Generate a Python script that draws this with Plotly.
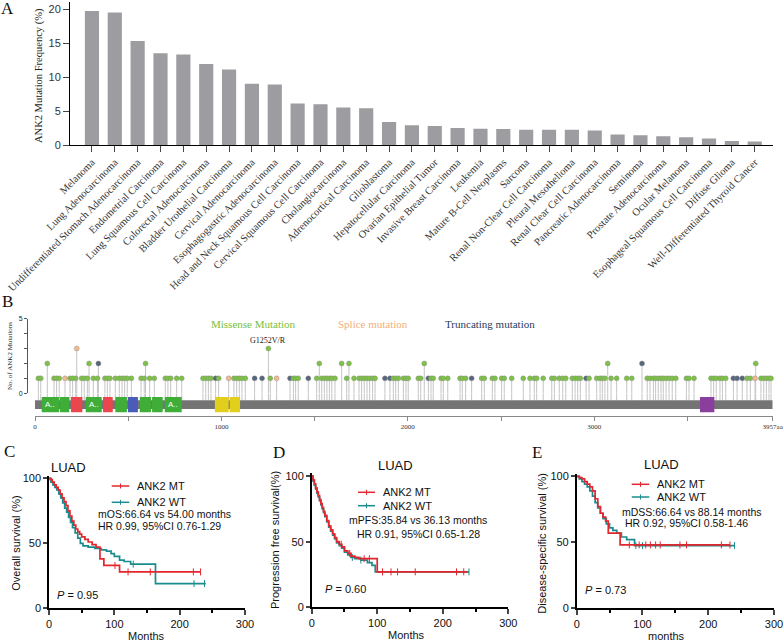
import plotly.graph_objects as go

W, H = 784, 642


def px(x):
    return x / W


def py(y):
    return 1 - y / H


SERIF = "Liberation Serif"
SANS = "Liberation Sans"

# ---------------- A: ANK2 mutation frequency per cancer type ----------------
cancer_types = [
    "Melanoma", "Lung Adenocarcinoma", "Undifferentiated Stomach Adenocarcinoma",
    "Endometrial Carcinoma", "Lung Squamous Cell Carcinoma", "Colorectal Adenocarcinoma",
    "Bladder Urothelial Carcinoma", "Cervical Adenocarcinoma", "Esophagogastric Adenocarcinoma",
    "Head and Neck Squamous Cell Carcinoma", "Cervical Squamous Cell Carcinoma",
    "Cholangiocarcinoma", "Adrenocortical Carcinoma", "Glioblastoma",
    "Hepatocellular Carcinoma", "Ovarian Epithelial Tumor", "Invasive Breast Carcinoma",
    "Leukemia", "Mature B-Cell Neoplasms", "Sarcoma", "Renal Non-Clear Cell Carcinoma",
    "Pleural Mesothelioma", "Renal Clear Cell Carcinoma", "Pancreatic Adenocarcinoma",
    "Seminoma", "Prostate Adenocarcinoma", "Ocular Melanoma",
    "Esophageal Squamous Cell Carcinoma", "Diffuse Glioma", "Well-Differentiated Thyroid Cancer",
]
mut_freq = [19.7, 19.5, 15.3, 13.5, 13.3, 11.9, 11.1, 9.0, 8.9, 6.1, 6.0, 5.5, 5.4, 3.4,
            2.9, 2.8, 2.5, 2.4, 2.35, 2.25, 2.25, 2.25, 2.15, 1.55, 1.45, 1.3, 1.15, 0.95,
            0.6, 0.5]

# ---------------- B: lollipop of ANK2 mutations ----------------
protein_len = 3957
mut_pos = [
    18, 31, 66, 102, 116, 130, 161, 188, 202, 218, 224, 250, 264, 281, 290, 313, 335, 340,
    375, 388, 402, 431, 452, 467, 481, 495, 517, 569, 586, 593, 615, 640, 699, 713, 728,
    760, 787, 901, 916, 930, 944, 969, 985, 1039, 1067, 1082, 1096, 1110, 1128, 1178, 1218,
    1252, 1262, 1296, 1368, 1386, 1398, 1412, 1466, 1511, 1525, 1538, 1552, 1566, 1579,
    1592, 1609, 1645, 1672, 1684, 1711, 1738, 1752, 1766, 1781, 1795, 1811, 1824, 1877,
    1904, 1922, 1935, 1949, 1976, 1990, 2002, 2056, 2069, 2088, 2110, 2124, 2136, 2178,
    2190, 2214, 2280, 2292, 2310, 2342, 2396, 2410, 2453, 2467, 2503, 2517, 2557, 2619,
    2655, 2678, 2691, 2726, 2772, 2786, 2812, 2831, 2847, 2882, 2897, 2911, 2925, 2956,
    2972, 3013, 3031, 3043, 3057, 3072, 3090, 3120, 3174, 3201, 3256, 3284, 3299, 3317,
    3329, 3343, 3358, 3370, 3385, 3401, 3418, 3437, 3494, 3508, 3535, 3626, 3640, 3654,
    3674, 3687, 3705, 3746, 3766, 3794, 3819, 3837, 3862, 3866, 3894, 3909, 3923, 3937, 3948,
]
recurrent_pos = [66, 224, 290, 340, 593, 1252, 1525, 1645, 1684, 2088, 3072, 3256, 3866]
recurrent_count = [2, 3, 2, 2, 2, 3, 2, 2, 2, 2, 2, 2, 2]
splice_pos = [161, 224, 1039, 1296, 3862]
truncating_pos = [340, 969, 1178, 1218, 1368, 1466, 1877, 1904, 2110, 2342, 2956, 3256,
                  3746, 3766, 3794]

domain_start = [36, 134, 193, 272, 365, 431, 499, 562, 628, 696, 965, 1044, 3567]
domain_end = [130, 184, 254, 358, 417, 493, 552, 622, 685, 787, 1039, 1100, 3644]
domain_color = ["#3fae38", "#3fae38", "#e9474d", "#3fae38", "#e9474d", "#3fae38", "#4b5bb8",
                "#3fae38", "#3fae38", "#3fae38", "#e2cf1d", "#e2cf1d", "#8a3f9f"]
domain_label = ["A..", "", "", "A..", "", "", "", "", "", "A..", "", "", ""]

type_color = {"M": "#7dc146", "S": "#f0b98f", "T": "#56667e"}

# ---------------- C/D/E: Kaplan-Meier curves (LUAD) ----------------
os_mt_t = [0, 2, 5, 8, 11, 14, 17, 20, 23, 26, 29, 32, 35, 38, 41, 44, 47, 50, 55, 60, 66, 72,
           78, 84, 108, 232]
os_mt_s = [100, 99, 97, 95, 93, 91, 88, 85, 82, 79, 75, 71, 67, 64, 61, 59, 57, 55, 53, 51, 49,
           47, 38, 33, 28, 28]
os_mt_cens = [101, 121, 155, 221, 232]
os_wt_t = [0, 3, 6, 9, 12, 15, 18, 21, 24, 27, 30, 33, 36, 40, 44, 48, 52, 60, 70, 80, 88, 95,
           100, 108, 115, 125, 163, 240]
os_wt_s = [100, 97, 95, 93, 91, 88, 85, 81, 77, 74, 70, 66, 62, 58, 54, 50, 48, 47, 46, 45, 44,
           42, 40, 37, 36, 34, 19, 19]
os_wt_cens = [129, 222, 238]

pfs_mt_t = [0, 2, 4, 6, 8, 10, 12, 14, 16, 18, 20, 23, 26, 29, 32, 35, 38, 42, 46, 50, 55, 60,
            66, 72, 100, 238]
pfs_mt_s = [100, 97, 94, 91, 88, 85, 82, 79, 76, 73, 70, 66, 62, 59, 56, 53, 50, 48, 46, 43, 41,
            39, 38, 37, 27, 27]
pfs_mt_cens = [45, 58, 80, 88, 108, 121, 131, 158, 221, 232]
pfs_wt_t = [0, 2, 4, 6, 8, 10, 12, 14, 16, 18, 20, 23, 26, 29, 32, 35, 38, 42, 46, 50, 55, 60,
            66, 75, 85, 92, 97, 240]
pfs_wt_s = [100, 96, 93, 90, 87, 84, 81, 78, 75, 72, 69, 65, 61, 58, 55, 52, 49, 47, 45, 42, 40,
            38, 37, 36, 34, 32, 27, 27]
pfs_wt_cens = [62, 75, 240]

dss_mt_t = [0, 4, 8, 12, 16, 20, 24, 28, 32, 36, 40, 44, 48, 66, 233]
dss_mt_s = [100, 99, 98, 96, 94, 92, 89, 83, 77, 72, 69, 66, 57, 48, 48]
dss_mt_cens = [80, 95, 105, 112, 120, 127, 157, 167, 220, 233]
dss_wt_t = [0, 4, 8, 12, 16, 20, 24, 28, 32, 36, 40, 45, 50, 55, 61, 68, 76, 88, 240]
dss_wt_s = [100, 98, 96, 94, 92, 89, 85, 80, 76, 72, 68, 64, 61, 59, 57, 54, 52, 47.5, 47.5]
dss_wt_cens = [90, 100, 240]

MT_COLOR = "#e3262d"
WT_COLOR = "#1b8c8e"


def surv_at(t, times, surv):
    val = surv[0]
    for ti, si in zip(times, surv):
        if ti <= t:
            val = si
    return val


fig = go.Figure()

# ---- A
fig.add_trace(go.Bar(x=cancer_types, y=mut_freq, width=0.62,
                     marker=dict(color="#9d9da1", line_width=0),
                     xaxis="x", yaxis="y", hoverinfo="skip"))

# ---- B
counts = [recurrent_count[recurrent_pos.index(p)] if p in recurrent_pos else 1 for p in mut_pos]
types = ["S" if p in splice_pos else "T" if p in truncating_pos else "M" for p in mut_pos]

stem_x, stem_y, base_y = [], [], []
for p, c in zip(mut_pos, counts):
    stem_x += [p, p, None]
    stem_y += [0, c, None]
    base_y += [0.69, 1.0, None]

fig.add_trace(go.Scatter(x=stem_x, y=stem_y, mode="lines",
                         line=dict(color="#c4c4c4", width=1),
                         xaxis="x2", yaxis="y2", hoverinfo="skip"))
fig.add_trace(go.Scatter(x=stem_x, y=base_y, mode="lines",
                         line=dict(color="#c4c4c4", width=1),
                         xaxis="x3", yaxis="y3", hoverinfo="skip"))
fig.add_trace(go.Scatter(x=mut_pos, y=counts, mode="markers",
                         marker=dict(size=5, color=[type_color[t] for t in types],
                                     line=dict(width=0.4, color="#8a8a8a")),
                         cliponaxis=False, xaxis="x2", yaxis="y2", hoverinfo="skip"))

shapes = [dict(type="rect", xref="x3", yref="y3", x0=0, x1=protein_len, y0=0.29, y1=0.69,
               fillcolor="#747474", line_width=0, layer="above")]
annotations = []
for s, e, col, lab in zip(domain_start, domain_end, domain_color, domain_label):
    shapes.append(dict(type="rect", xref="x3", yref="y3", x0=s, x1=e, y0=0.15, y1=0.83,
                       fillcolor=col, line_width=0, layer="above"))
    if lab:
        annotations.append(dict(x=(s + e) / 2, y=0.49, xref="x3", yref="y3", text=lab,
                                showarrow=False, font=dict(family=SANS, size=8, color="white")))

annotations.append(dict(x=1252, y=3, xref="x2", yref="y2", text="G1252V/R", showarrow=False,
                        yshift=8, font=dict(family=SERIF, size=8, color="#222")))

# ---- C/D/E
km_panels = [
    ("x4", "y4", os_mt_t, os_mt_s, os_mt_cens, os_wt_t, os_wt_s, os_wt_cens),
    ("x5", "y5", pfs_mt_t, pfs_mt_s, pfs_mt_cens, pfs_wt_t, pfs_wt_s, pfs_wt_cens),
    ("x6", "y6", dss_mt_t, dss_mt_s, dss_mt_cens, dss_wt_t, dss_wt_s, dss_wt_cens),
]
for xa, ya, mt_t, mt_s, mt_c, wt_t, wt_s, wt_c in km_panels:
    for t, s, cens, col in [(wt_t, wt_s, wt_c, WT_COLOR), (mt_t, mt_s, mt_c, MT_COLOR)]:
        fig.add_trace(go.Scatter(x=t, y=s, mode="lines",
                                 line=dict(color=col, width=1.7, shape="hv"),
                                 xaxis=xa, yaxis=ya, hoverinfo="skip"))
        fig.add_trace(go.Scatter(x=cens, y=[surv_at(c, t, s) for c in cens], mode="markers",
                                 marker=dict(symbol="line-ns", size=5,
                                             line=dict(color=col, width=1)),
                                 cliponaxis=False, xaxis=xa, yaxis=ya, hoverinfo="skip"))


def legend_entry(x0, x1, y, color):
    shapes.append(dict(type="line", xref="paper", yref="paper", x0=px(x0), x1=px(x1),
                       y0=py(y), y1=py(y), line=dict(color=color, width=1.5)))
    xm = (x0 + x1) / 2
    shapes.append(dict(type="line", xref="paper", yref="paper", x0=px(xm), x1=px(xm),
                       y0=py(y - 2.5), y1=py(y + 2.5), line=dict(color=color, width=1)))


def text(x, y, s, size, family=SANS, color="#111", xanchor="center", angle=0):
    annotations.append(dict(x=px(x), y=py(y), xref="paper", yref="paper", text=s,
                            showarrow=False, xanchor=xanchor, yanchor="middle",
                            textangle=angle, font=dict(family=family, size=size, color=color)))


# legends
for x0, x1, tx, y1, y2 in [(111.7, 129.3, 135, 486, 502.3),
                           (358, 375, 380.7, 492.3, 505.7),
                           (631.7, 649.3, 655, 484.3, 497)]:
    legend_entry(x0, x1, y1, MT_COLOR)
    legend_entry(x0, x1, y2, WT_COLOR)
    text(tx, y1, "ANK2 MT", 11, xanchor="left")
    text(tx, y2, "ANK2 WT", 11, xanchor="left")

# panel letters
text(8, 8, "A", 17, SERIF)
text(8, 302, "B", 17, SERIF)
text(9, 451, "C", 17, SERIF)
text(279, 452, "D", 17, SERIF)
text(537, 452, "E", 17, SERIF)

# A / B text
text(39, 76, "ANK2 Mutation Frequency (%)", 10.5, SERIF, "#222", angle=-90)
text(10, 356, "No. of ANK2 Mutations", 7, SERIF, "#222", angle=-90)
text(253.3, 323.7, "Missense Mutation", 11, SERIF, "#77c043")
text(372.5, 323.7, "Splice mutation", 11, SERIF, "#f2ae7c")
text(489.5, 324, "Truncating mutation", 11, SERIF, "#263c5e")

# KM texts
text(68, 467, "LUAD", 13)
text(395, 465, "LUAD", 13)
text(661.7, 464.3, "LUAD", 13)
text(96, 514.3, "mOS:66.64 vs 54.00 months", 10.5, xanchor="left")
text(96, 525.7, "HR 0.99, 95%CI 0.76-1.29", 10.5, xanchor="left")
text(418.3, 520.3, "mPFS:35.84 vs 36.13 months", 10.5)
text(418.3, 533.7, "HR 0.91, 95%CI 0.65-1.28", 10.5)
text(620, 511.7, "mDSS:66.64 vs 88.14 months", 10.5, xanchor="left")
text(623.3, 523.3, "HR 0.92, 95%CI 0.58-1.46", 10.5, xanchor="left")
text(55, 595, "<i>P</i> = 0.95", 11, xanchor="left")
text(323.3, 589, "<i>P</i> = 0.60", 11, xanchor="left")
text(583.3, 590, "<i>P</i> = 0.73", 11, xanchor="left")
text(146.7, 635.7, "Months", 11)
text(406.7, 635, "Months", 11)
text(666.7, 635.7, "months", 11)
text(15.7, 543, "Overall survival (%)", 11, angle=-90)
text(275, 540, "Progression free survival(%)", 11, angle=-90)
text(541.7, 543, "Disease-specific survival (%)", 11, angle=-90)

base_axis = dict(showgrid=False, zeroline=False, automargin=False)

km_x = dict(base_axis, range=[0, 300], tickvals=[0, 100, 200, 300], ticks="outside",
            ticklen=5, tickwidth=1.5, showline=True, linecolor="black", linewidth=1.5,
            tickfont=dict(family=SANS, size=11, color="#111"),
            minor=dict(tickvals=[50, 150, 250], ticks="outside", ticklen=3, tickwidth=1.5,
                       tickcolor="black"))
km_y = dict(base_axis, range=[0, 102], tickvals=[0, 50, 100], ticks="outside", ticklen=4,
            tickwidth=1.5, showline=True, linecolor="black", linewidth=1.5,
            tickfont=dict(family=SANS, size=11, color="#111"))

fig.update_layout(
    width=W, height=H, margin=dict(l=0, r=0, t=0, b=0),
    paper_bgcolor="white", plot_bgcolor="white", showlegend=False,
    template="none",
    xaxis=dict(base_axis, type="category", range=[-0.96, 29.8], domain=[px(70), px(773)],
               tickmode="linear", dtick=1, tickangle=-45, ticks="outside", ticklen=6,
               showline=True, linecolor="black", linewidth=1,
               tickfont=dict(family=SERIF, size=10.5, color="#333")),
    yaxis=dict(base_axis, range=[0, 21], domain=[py(145), py(145 - 21 * 6.8)],
               tickvals=[0, 5, 10, 15, 20], ticks="outside", ticklen=6, showline=True,
               linecolor="black", linewidth=1,
               tickfont=dict(family=SANS, size=11, color="#333")),
    xaxis2=dict(base_axis, range=[-37.5, protein_len], domain=[px(28), px(772.7)],
                visible=False, anchor="y2"),
    yaxis2=dict(base_axis, range=[0, 5], domain=[py(393.3), py(318.6)], anchor="x2",
                tickvals=[0, 1, 2, 3, 4, 5], ticktext=["0", "", "", "", "", "5"],
                ticks="outside", ticklen=3, tickcolor="#555", showline=True,
                linecolor="#555", linewidth=1,
                tickfont=dict(family=SANS, size=7, color="#222")),
    xaxis3=dict(base_axis, range=[0, protein_len], domain=[px(35), px(772.7)],
                anchor="y3",
                tickvals=[0, 500, 1000, 1500, 2000, 2500, 3000, 3500, 3957],
                ticktext=["0", "", "1000", "", "2000", "", "3000", "", "3957aa"],
                ticks="outside", ticklen=4, tickcolor="#888", showline=True,
                linecolor="#888", linewidth=1,
                tickfont=dict(family=SERIF, size=7, color="#333")),
    yaxis3=dict(base_axis, range=[0, 1], domain=[py(415.5), py(393.3)], visible=False,
                anchor="x3"),
    xaxis4=dict(km_x, domain=[px(49), px(245)], anchor="y4"),
    yaxis4=dict(km_y, domain=[py(608.3), py(608.3 - 102 * 1.3)], anchor="x4"),
    xaxis5=dict(km_x, domain=[px(311.7), px(508.3)], anchor="y5"),
    yaxis5=dict(km_y, domain=[py(607.3), py(607.3 - 102 * 1.313)], anchor="x5"),
    xaxis6=dict(km_x, domain=[px(576.7), px(774)], anchor="y6"),
    yaxis6=dict(km_y, domain=[py(608.3), py(608.3 - 102 * 1.32)], anchor="x6"),
    shapes=shapes,
    annotations=annotations,
)

# the page body has a default 8px margin; drop it so the 784x642 figure fills the window
fig.write_html("out.html", config={"displayModeBar": False},
               post_script="document.body.style.margin='0';")
